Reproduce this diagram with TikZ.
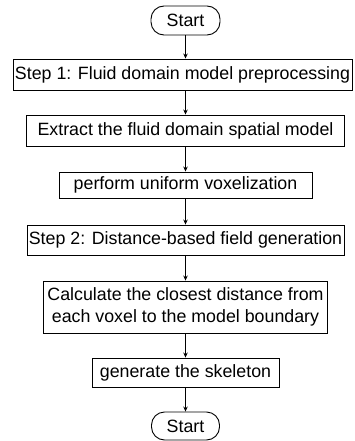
\documentclass[tikz,border=0pt]{standalone}
\usepackage{fontspec}
\setmainfont{Liberation Sans}
\usetikzlibrary{arrows.meta}
\begin{document}
\begin{tikzpicture}[x=1pt,y=-1pt,
  box/.style={draw=black, line width=0.9pt, inner sep=0pt, align=center,
    font=\fontsize{17.8}{22}\selectfont},
  term/.style={box, rounded corners=13pt},
  arr/.style={draw=black, line width=0.9pt, -{Stealth[length=5pt,width=4.5pt]}}]
\useasboundingbox (0,0) rectangle (354,441);
\node[term, minimum width=69pt, minimum height=29pt] (start) at (185.5,20.5) {Start};
\node[box, minimum width=339pt, minimum height=31pt] (s1) at (182.5,74.5) {Step 1: Fluid domain model preprocessing};
\node[box, minimum width=318pt, minimum height=31pt] (s2) at (185.5,130.5) {Extract the fluid domain spatial model};
\node[box, minimum width=253pt, minimum height=26pt] (s3) at (185.5,185) {perform uniform voxelization};
\node[box, minimum width=317pt, minimum height=30pt] (s4) at (185.5,240) {Step 2: Distance-based field generation};
\node[box, minimum width=284pt, minimum height=52pt] (s5) at (185.5,307) {Calculate the closest distance from\\each voxel to the model boundary};
\node[box, minimum width=187pt, minimum height=29pt] (s6) at (185.5,372.5) {generate the skeleton};
\node[term, minimum width=68pt, minimum height=28pt] (end) at (185.5,426) {Start};
\draw[arr] (start.south) -- (start.south |- s1.north);
\draw[arr] (s1.south -| start.south) -- (s2.north);
\draw[arr] (s2) -- (s3);
\draw[arr] (s3) -- (s4);
\draw[arr] (s4) -- (s5);
\draw[arr] (s5) -- (s6);
\draw[arr] (s6) -- (end);
\end{tikzpicture}
\end{document}
